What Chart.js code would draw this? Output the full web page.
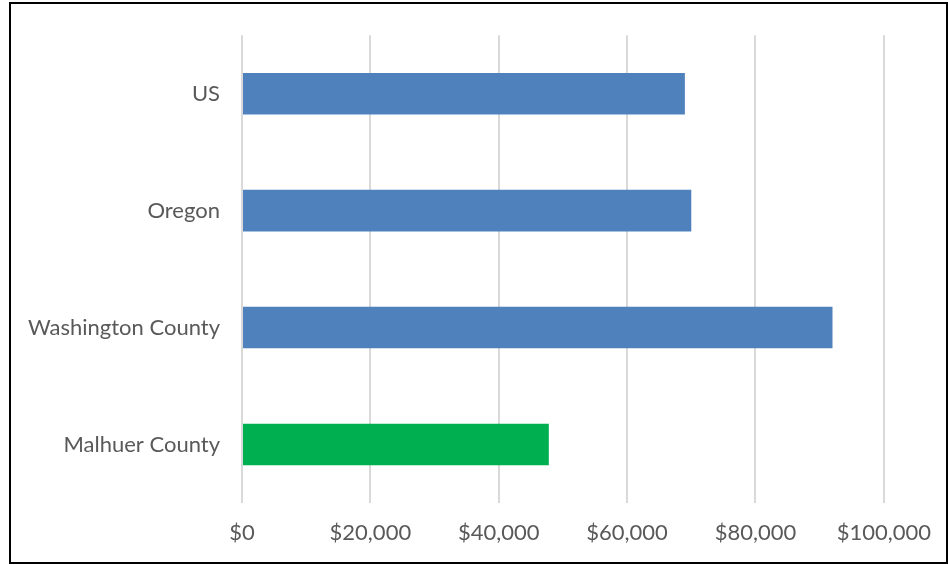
<!DOCTYPE html>
<html>
<head>
<meta charset="utf-8">
<script src="https://cdn.jsdelivr.net/npm/chart.js@4"></script>
<style>
  html, body { margin: 0; padding: 0; background: #fff; }
  #wrap { position: relative; width: 948px; height: 565px; }
  #frame {
    position: absolute; left: 9px; top: 2px; width: 935px; height: 558px;
    border: 2px solid #000; pointer-events: none;
  }
</style>
</head>
<body>
<div id="wrap">
  <canvas id="incomeChart" width="948" height="565"></canvas>
  <div id="frame"></div>
</div>
<script>
// Median household income
const places = ['US', 'Oregon', 'Washington County', 'Malhuer County'];
const income = [69000, 70000, 92000, 47800];
const highlight = 'Malhuer County';

const blue = '#4f81bd';
const green = '#00b050';

Chart.defaults.font.family = "Lato, 'Open Sans', sans-serif";
Chart.defaults.color = '#595959';

new Chart(document.getElementById('incomeChart'), {
  type: 'bar',
  data: {
    labels: places,
    datasets: [
      {
        data: income,
        backgroundColor: places.map((p) => (p === highlight ? green : blue)),
        borderWidth: 0,
        categoryPercentage: 1,
        barPercentage: 0.355,
      },
    ],
  },
  options: {
    indexAxis: 'y',
    responsive: false,
    animation: false,
    layout: { padding: { top: 32, right: 64, left: 0, bottom: 0 } },
    plugins: {
      legend: { display: false },
      tooltip: { enabled: false },
    },
    scales: {
      x: {
        min: 0,
        max: 100000,
        ticks: {
          stepSize: 20000,
          padding: 17,
          font: { size: 22 },
          callback: (v) => '$' + v.toLocaleString('en-US'),
        },
        grid: { color: '#d9d9d9', lineWidth: 2, drawTicks: false },
        border: { display: false },
        afterFit: (axis) => { axis.height = 62; },
      },
      y: {
        ticks: { padding: 22, font: { size: 22 } },
        grid: { display: false, drawTicks: false },
        border: { display: false },
        afterFit: (axis) => { axis.width = 242; },
      },
    },
  },
});
</script>
</body>
</html>
